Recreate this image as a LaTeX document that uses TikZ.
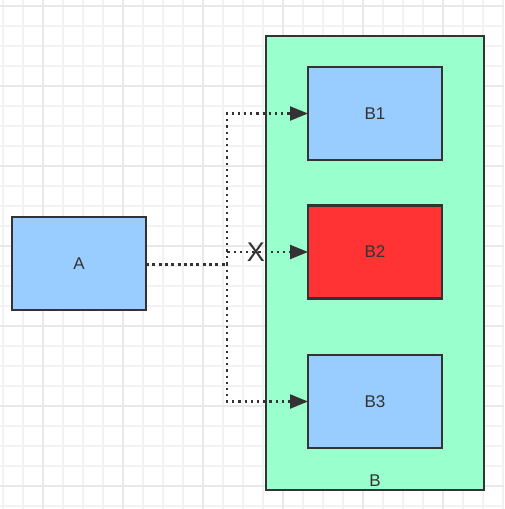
\documentclass[tikz,border=0pt]{standalone}
\usepackage{fontspec}
\setmainfont{Liberation Sans}
\usetikzlibrary{arrows.meta,positioning}
\definecolor{sky}{HTML}{99CCFF}
\definecolor{mint}{HTML}{99FFCC}
\definecolor{alarm}{HTML}{FF3333}
\definecolor{ink}{HTML}{333333}
\definecolor{gridminor}{HTML}{F2F2F2}
\definecolor{gridmajor}{HTML}{E8E8E8}
\tikzset{
  >={Triangle[length=18pt,width=14pt]},
  box/.style={draw=ink,fill=#1,line width=2.6pt,minimum width=134pt,minimum height=93pt,
    inner sep=0pt,outer sep=0pt,font=\fontsize{17}{17}\selectfont,text=ink},
  box/.default=sky,
  link/.style={draw=ink,line width=2.2pt,dash pattern=on 2.2pt off 4pt},
  trunk/.style={draw=ink,line width=3pt,dash pattern=on 3pt off 3.3pt},
}

\begin{document}
\begin{tikzpicture}[x=1pt,y=-1pt]
  \useasboundingbox (0,0) rectangle (504,509);
  % background grid
  \foreach \x in {3,23,...,503} \draw[gridminor,line width=1.5pt] (\x,0) -- (\x,509);
  \foreach \y in {6,26,...,506} \draw[gridminor,line width=1.5pt] (0,\y) -- (504,\y);
  \foreach \x in {43,123,...,443} \draw[gridmajor,line width=1.5pt] (\x,0) -- (\x,509);
  \foreach \y in {6,86,...,486} \draw[gridmajor,line width=1.5pt] (0,\y) -- (504,\y);

  \node[box=mint,minimum width=218pt,minimum height=454pt] (B) at (375,263) {};
  \node[font=\fontsize{17}{17}\selectfont,text=ink] (Blabel) at (375,481) {B};
  \node[box] (A) at (79,263.5) {A};
  \node[box] (B1) at (375,113.5) {B1};
  \node[box=alarm] (B2) at (375,252) {B2};
  \node[box] (B3) at (375,401.5) {B3};
  \coordinate (jn) at (227,264);

  \draw[trunk] (A.east |- jn) -- (jn);
  \draw[link,->] (jn) |- (B1.west);
  \draw[link,->] (jn) |- (B2.west);
  \draw[link,->] (jn) |- (B3.west);
  \node[font=\fontsize{27}{27}\selectfont,text=ink,inner sep=0pt] (cut) at (256,252) {X};
\end{tikzpicture}
\end{document}
